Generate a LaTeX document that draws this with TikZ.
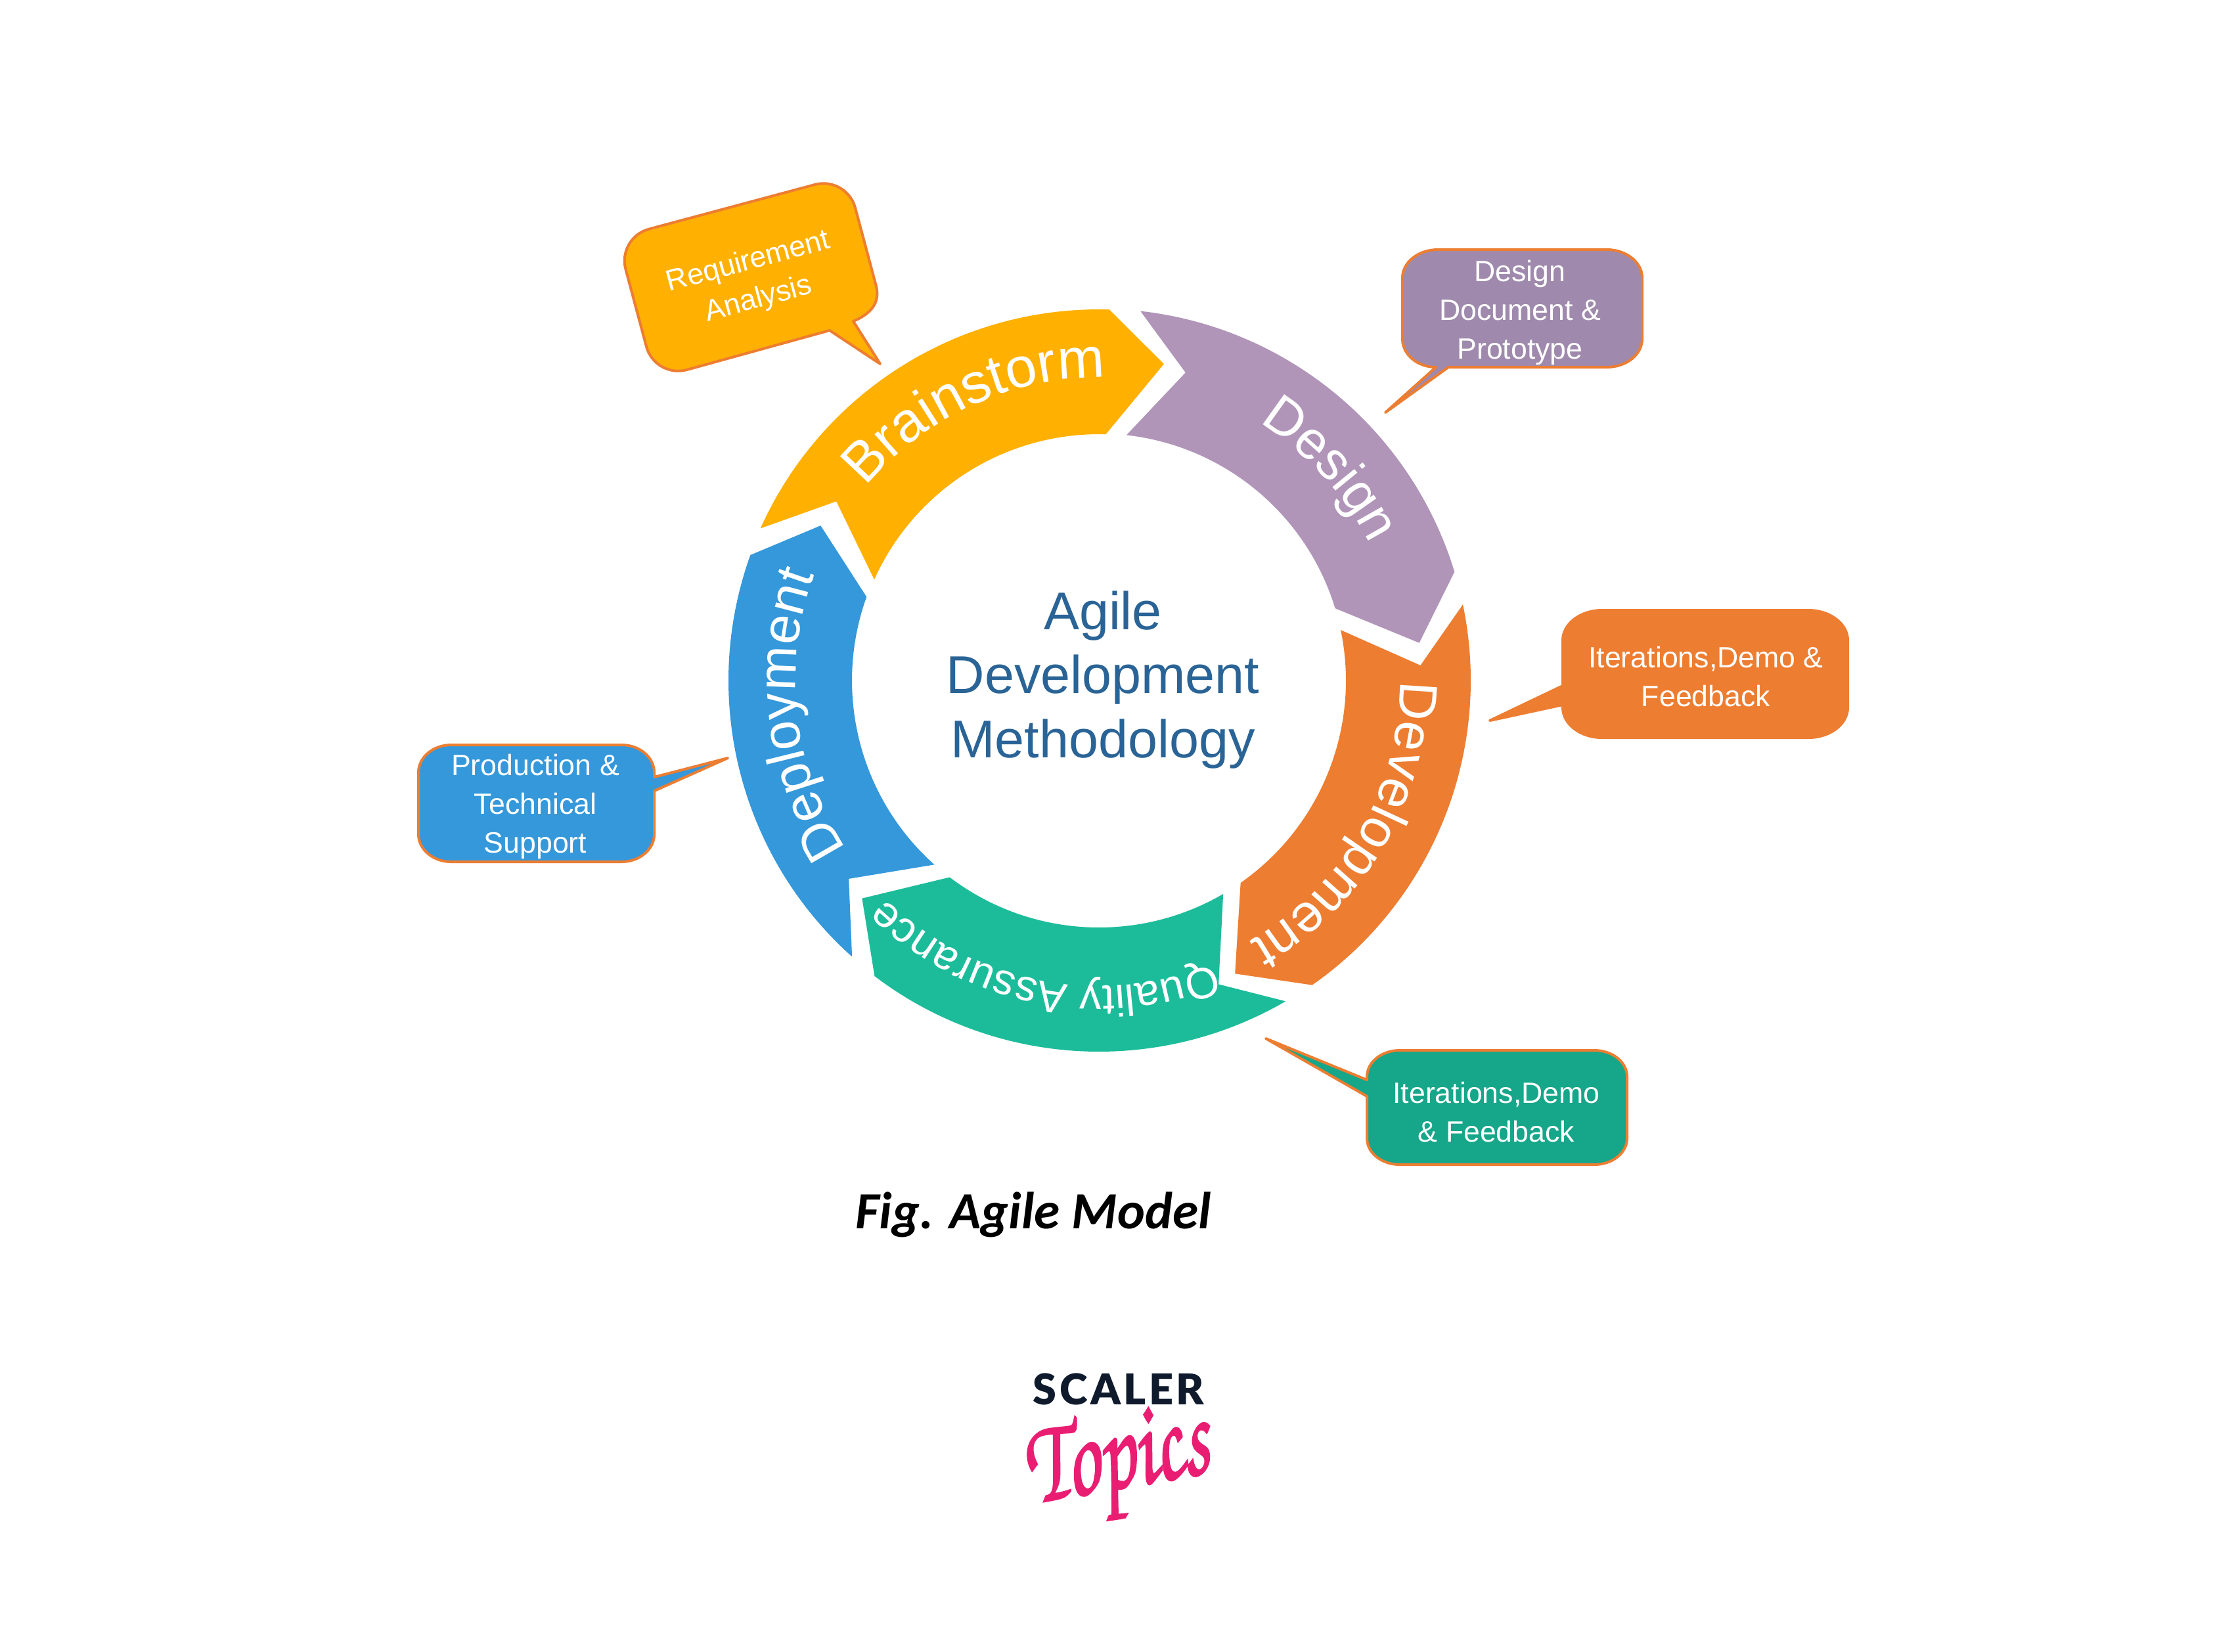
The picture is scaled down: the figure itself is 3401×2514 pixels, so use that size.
\documentclass[tikz,border=0pt]{standalone}
\usepackage[T1,TU]{fontenc}
\usepackage{fontspec}
\usetikzlibrary{decorations.text}
\setmainfont{Liberation Sans}
\newfontfamily\capfont{Carlito}
\newfontfamily\scalerfont[LetterSpace=7]{Lato Black}
\definecolor{cBrain}{HTML}{FFB000}
\definecolor{cDesign}{HTML}{B095B9}
\definecolor{cDev}{HTML}{ED7D31}
\definecolor{cQA}{HTML}{1CBC9A}
\definecolor{cDeploy}{HTML}{3498DB}
\definecolor{bDesign}{HTML}{9F8AAD}
\definecolor{bQA}{HTML}{16A689}
\definecolor{cMid}{HTML}{2A6496}
\definecolor{cLogo}{HTML}{0F1B2D}
\definecolor{cPink}{HTML}{E91E73}
\newcommand{\ringfont}{\fontsize{23.2}{28}\selectfont\color{white}}
\tikzset{
  bubble/.style={draw=cDev,line width=0.04cm,line join=round},
  bubbletext/.style={text=white,align=center,inner sep=0pt,font=\fontsize{12.7}{16.7}\selectfont},
  ringlabel/.style={decorate,decoration={text along path,text align=left,text={#1}}},
  cr/.style={x radius=#1}
}
\begin{document}
\begin{tikzpicture}[x=.01cm,y=-.01cm]
\useasboundingbox[fill=white] (0,0) rectangle (3401,2514);
% ring
\begin{scope}[shift={(1673,1036)},y=.01cm]
  \fill[cBrain] (155.8:565) arc[start angle=155.8,end angle=88.4,radius=565] -- (78.4:492) -- (88.4:375) arc[start angle=88.4,end angle=155.8,radius=375] -- (145.7:484) -- cycle;
  \fill[cDesign] (83.6:566) arc[start angle=83.6,end angle=17,radius=566] -- (6.7:491) -- (17:376) arc[start angle=17,end angle=83.6,radius=376] -- (74.3:487) -- cycle;
  \fill[cDev] (11.8:566) arc[start angle=11.8,end angle=-55,radius=566] -- (-65.1:492) -- (-55:376) arc[start angle=-55,end angle=11.8,radius=376] -- (2.7:490) -- cycle;
  \fill[cQA] (-59.8:565) arc[start angle=-59.8,end angle=-127.2,radius=565] -- (-137.4:490) -- (-127.2:376) arc[start angle=-127.2,end angle=-59.8,radius=376] -- (-68.5:497) -- cycle;
  \fill[cDeploy] (228.2:564) arc[start angle=228.2,end angle=160.2,radius=564] -- (150.9:485) -- (160.2:376) arc[start angle=160.2,end angle=228.2,radius=376] -- (218.4:486) -- cycle;
  \path[ringlabel={|\fontsize{24.4}{28}\selectfont\color{white}|Brainstorm}] (140.3:461) arc[start angle=140.3,end angle=70,radius=461];
  \path[ringlabel={|\ringfont|Design}] (58.2:462) arc[start angle=58.2,end angle=0,radius=462];
  \path[ringlabel={|\ringfont|Development}] (0:459) arc[start angle=0,end angle=-90,radius=459];
  \path[ringlabel={|\fontsize{18.9}{24}\selectfont\color{white}|Quality Assurance}] (-68:465) arc[start angle=-68,end angle=-160,radius=465];
  \path[ringlabel={|\ringfont|Deployment}] (213.6:462) arc[start angle=213.6,end angle=130,radius=462];
\end{scope}
% centre
\node[text=cMid,align=center,inner sep=0pt,font=\fontsize{23}{27.6}\selectfont] (mid) at (1679,1035) {Agile\\Development\\Methodology};
% callouts
\draw[bubble,fill=cBrain] (1240.7,280.95) .. controls (1267.3,273.8) and (1294.8,289.7) .. (1302,316.3) -- (1334,436) .. controls (1340,462) and (1325,478) .. (1299,489) -- (1340,554) -- (1263,503) -- (1045.3,563.05) .. controls (1018.7,570.2) and (991.2,554.3) .. (984,527.7) -- (952.5,410) .. controls (945.3,383.4) and (961.2,355.9) .. (987.8,348.75) -- cycle;
\node[bubbletext,rotate=15] (req) at (1147,428) {Requirement\\Analysis};
\draw[bubble,fill=bDesign] (2189,380) -- (2446,380) arc[start angle=270,end angle=360,x radius=54,y radius=43] -- (2500,516) arc[start angle=0,end angle=90,x radius=54,y radius=43] -- (2205,559) -- (2109,628) -- (2186,559) arc[start angle=90,end angle=180,x radius=51,y radius=43] -- (2135,423) arc[start angle=180,end angle=270,x radius=54,y radius=43] -- cycle;
\node[bubbletext] (des) at (2314,476) {Design\\Document \&\\Prototype};
\draw[bubble,fill=cDev] (2439,929) -- (2753,929) arc[start angle=270,end angle=360,x radius=60,y radius=46] -- (2813,1077) arc[start angle=0,end angle=90,x radius=60,y radius=46] -- (2439,1123) arc[start angle=90,end angle=180,x radius=60,y radius=46] -- (2379,1073) -- (2268,1097) -- (2379,1044) -- (2379,975) arc[start angle=180,end angle=270,x radius=60,y radius=46] -- cycle;
\node[bubbletext] (it1) at (2597,1030) {Iterations,Demo \&\\Feedback};
\draw[bubble,fill=bQA] (2131,1599) -- (2427,1599) arc[start angle=270,end angle=360,x radius=50,y radius=40] -- (2477,1733) arc[start angle=0,end angle=90,x radius=50,y radius=40] -- (2131,1773) arc[start angle=90,end angle=180,x radius=50,y radius=40] -- (2081,1669) -- (1927,1581) -- (2081,1644) -- (2081,1639) arc[start angle=180,end angle=270,x radius=50,y radius=40] -- cycle;
\node[bubbletext] (it2) at (2278,1693) {Iterations,Demo\\\& Feedback};
\draw[bubble,fill=cDeploy] (687,1134) -- (946,1134) arc[start angle=270,end angle=360,x radius=50,y radius=42] -- (996,1183) -- (1108,1154) -- (996,1204) -- (996,1270) arc[start angle=0,end angle=90,x radius=50,y radius=42] -- (687,1312) arc[start angle=90,end angle=180,x radius=50,y radius=42] -- (637,1176) arc[start angle=180,end angle=270,x radius=50,y radius=42] -- cycle;
\node[bubbletext] (prod) at (815,1228) {Production \&\\Technical\\Support};
% caption
\node[inner sep=0pt,font=\capfont\bfseries\itshape\fontsize{22.6}{26}\selectfont] (cap) at (1573,1849) {Fig. Agile Model};
% logo
\node[inner sep=0pt,text=cLogo,font=\scalerfont\fontsize{18.4}{20}\selectfont] (scaler) at (1703,2115) {SCALER};
\node[inner sep=0pt,text=cPink,rotate=10,yscale=1.45,font=\fontencoding{T1}\fontfamily{pzc}\fontseries{mb}\fontshape{it}\fontsize{36}{40}\selectfont] (topics) at (1702,2233) {\special{pdf:code q 2 Tr 0.6 w 0.914 0.118 0.451 RG}Topics\special{pdf:code Q}};
\end{tikzpicture}
\end{document}
